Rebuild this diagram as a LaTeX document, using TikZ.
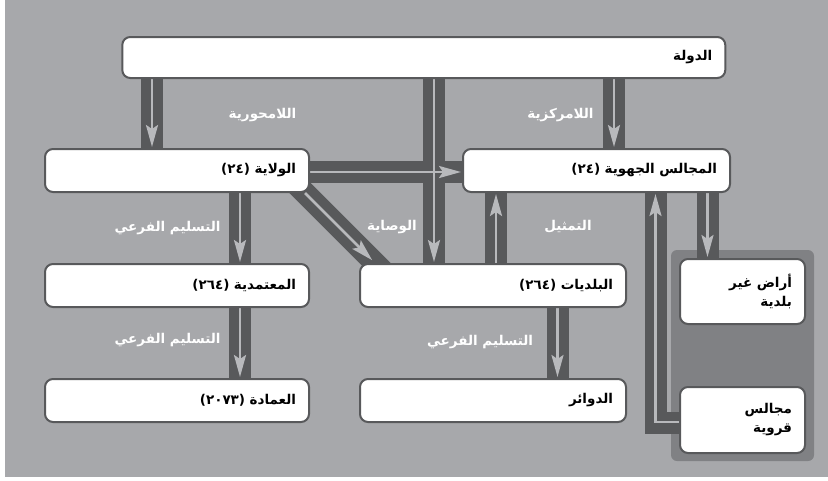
\documentclass[tikz,border=0pt]{standalone}
\usepackage{fontspec}
\newfontfamily\arabicfont[Script=Arabic]{DejaVu Sans}
\TeXXeTstate=1
\usetikzlibrary{arrows.meta,positioning,backgrounds,calc}
\definecolor{pgray}{HTML}{A7A8AB}
\definecolor{ggray}{HTML}{808184}
\definecolor{bgray}{HTML}{58595B}
\definecolor{lgray}{HTML}{B8B9BC}
\pgfdeclarelayer{bars}
\pgfsetlayers{background,bars,main}
\begin{document}
\begin{tikzpicture}[x=1pt, y=-1pt,
  node distance=70pt and 49pt,
  box/.style={draw=bgray, line width=2pt, fill=white, rounded corners=8pt,
    inner xsep=13pt, minimum height=43pt, align=right, text=black,
    font=\arabicfont\bfseries\fontsize{13.5}{19}\selectfont},
  lbl/.style={text=white, font=\arabicfont\bfseries\fontsize{13.5}{16}\selectfont},
  bar/.style={draw=bgray, line width=22pt},
  arr/.style={draw=lgray, line width=2.5pt, shorten >=1pt,
    -{Stealth[length=22pt, width=12pt, inset=4pt, fill=lgray]}},
]
\useasboundingbox (0,0) rectangle (828,480);
% boxes
\node[box, text width=577pt, minimum height=41pt] (state) at (423.8,57.5) {\beginR الدولة\endR};
\node[box, text width=238pt] (wilaya) at (177,170.5) {\beginR الولاية (٢٤)\endR};
\node[box, text width=238pt, below=of wilaya] (mutamad) {\beginR المعتمدية (٢٦٤)\endR};
\node[box, text width=238pt, below=of mutamad] (imada) {\beginR العمادة (٢٠٧٣)\endR};
\node[box, text width=240pt, right=of mutamad] (baladia) {\beginR البلديات (٢٦٤)\endR};
\node[box, text width=240pt, below=of baladia] (dawair) {\beginR الدوائر\endR};
\node[box, text width=241pt] (jihawi) at (596.5,170.5) {\beginR المجالس الجهوية (٢٤)\endR};
\node[box, text width=99pt, minimum height=65pt] (aradi) at (742.5,291.5) {\beginR أراض غير\endR\\\beginR بلدية\endR};
\node[box, text width=99pt, minimum height=66pt] (qurawi) at (742.5,420) {\beginR مجالس\endR\\\beginR قروية\endR};
% labels
\node[lbl] (lamahw) at (262.5,115) {\beginR اللامحورية\endR};
\node[lbl] (lamark) at (560.5,115) {\beginR اللامركزية\endR};
\node[lbl] (wisaya) at (392,227) {\beginR الوصاية\endR};
\node[lbl] (tamthil) at (568,227) {\beginR التمثيل\endR};
\node[lbl] (taslim1) at (167.5,228) {\beginR التسليم الفرعي\endR};
\node[lbl] (taslim2) at (167.5,340) {\beginR التسليم الفرعي\endR};
\node[lbl] (taslim3) at (480,342) {\beginR التسليم الفرعي\endR};
% connectors
\coordinate (a1) at ([xshift=-25pt]wilaya.north);
\coordinate (a2) at ([xshift=17.5pt]jihawi.north);
\coordinate (a3) at ([xshift=-59pt]baladia.north);
\coordinate (a4) at ([yshift=-1.5pt]wilaya.east);
\coordinate (a5) at ([xshift=63pt]mutamad.north);
\coordinate (a6) at ([xshift=63pt]imada.north);
\coordinate (a7) at ([xshift=3pt]baladia.north);
\coordinate (a8) at ([xshift=64.5pt]dawair.north);
\coordinate (a9) at ([xshift=-35pt]aradi.north);
\coordinate (q1) at ([xshift=59pt]jihawi.south);
\coordinate (d1) at ([xshift=-5pt]wilaya.south east);
\coordinate (d2) at ([xshift=16pt]baladia.north west);
\begin{pgfonlayer}{background}
\fill[pgray] (5,0) rectangle (828,477);
\fill[ggray, rounded corners=6pt] (671,250) rectangle (814,461);
\end{pgfonlayer}
\begin{pgfonlayer}{bars}
\draw[bar] (state.south -| a1) -- (a1);
\draw[bar] (state.south -| a2) -- (a2);
\draw[bar] (state.south -| a3) -- (a3);
\draw[bar] (a4) -- (a4 -| jihawi.west);
\draw[bar] ([shift={(-25pt,20pt)}]wilaya.south east) -- ([shift={(31pt,-15pt)}]baladia.north west);
\draw[bar] (wilaya.south -| a5) -- (a5);
\draw[bar] (mutamad.south -| a6) -- (a6);
\draw[bar] (a7) -- (jihawi.south -| a7);
\draw[bar] (baladia.south -| a8) -- (a8);
\draw[bar] (jihawi.south -| a9) -- (a9);
\draw[bar] ([yshift=-2.5pt]qurawi.west) -| (q1);
\draw[arr] (state.south -| a1) -- (a1);
\draw[arr] (state.south -| a2) -- (a2);
\draw[arr] (state.south -| a3) -- (a3);
\draw[arr] (a4) -- (a4 -| jihawi.west);
\draw[arr, shorten >=4pt] (d1) -- (d2);
\draw[arr] (wilaya.south -| a5) -- (a5);
\draw[arr] (mutamad.south -| a6) -- (a6);
\draw[arr] (a7) -- (jihawi.south -| a7);
\draw[arr] (baladia.south -| a8) -- (a8);
\draw[arr] (jihawi.south -| a9) -- (a9);
\draw[arr] ([yshift=-2pt]qurawi.west) -| (q1);
\end{pgfonlayer}
\end{tikzpicture}
\end{document}
